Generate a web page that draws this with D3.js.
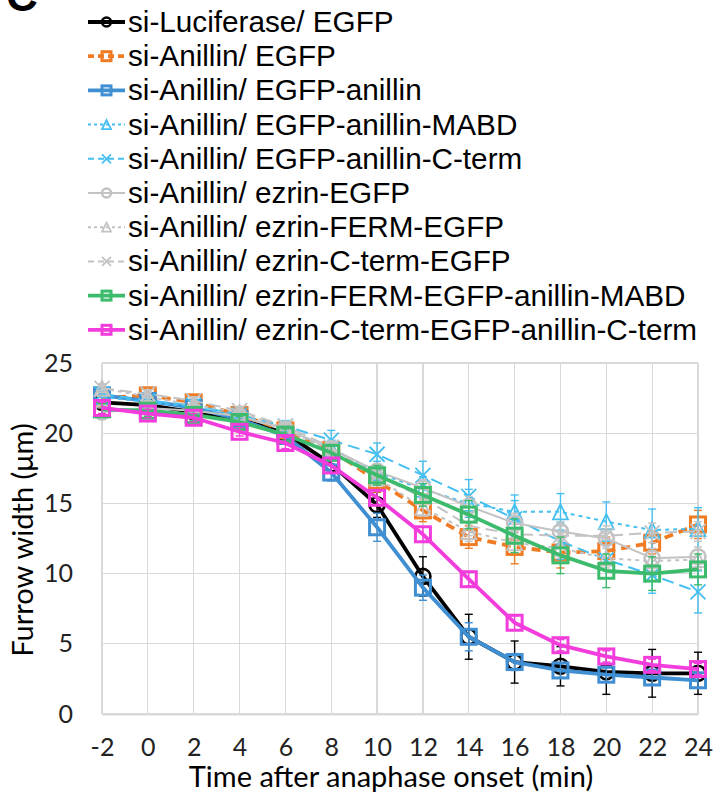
<!DOCTYPE html>
<html>
<head>
<meta charset="UTF-8" />
<title>Furrow width</title>
<style>
  body { margin: 0; background: #ffffff; }
  svg { display: block; }
  .grid line { stroke: #d9d9d9; stroke-width: 1.3px; shape-rendering: crispEdges; }
  .tick text { font-family: Lato, "Open Sans", sans-serif; font-size: 25px; fill: #222; }
  .legend text { font-family: "Liberation Sans", Arial, sans-serif; font-size: 29.7px; fill: #000; }
  .title { font-family: Lato, "Open Sans", sans-serif; font-size: 29px; fill: #000; }
</style>
</head>
<body>
<script src="https://cdnjs.cloudflare.com/ajax/libs/d3/7.8.5/d3.min.js"></script>
<script>
'use strict';
// time points (min) and tick labels
const times = [-2, 0, 2, 4, 6, 8, 10, 12, 14, 16, 18, 20, 22, 24];
const yTicks = [0, 5, 10, 15, 20, 25];

const seriesNames = [
  'si-Luciferase/ EGFP',
  'si-Anillin/ EGFP',
  'si-Anillin/ EGFP-anillin',
  'si-Anillin/ EGFP-anillin-MABD',
  'si-Anillin/ EGFP-anillin-C-term',
  'si-Anillin/ ezrin-EGFP',
  'si-Anillin/ ezrin-FERM-EGFP',
  'si-Anillin/ ezrin-C-term-EGFP',
  'si-Anillin/ ezrin-FERM-EGFP-anillin-MABD',
  'si-Anillin/ ezrin-C-term-EGFP-anillin-C-term'
];

// furrow width means (um)
const lucEGFP      = [22.2, 22.0, 21.5, 21.0, 20.0, 17.8, 14.9, 9.8, 5.5, 3.7, 3.4, 3.0, 2.9, 2.9];
const anlEGFP      = [22.5, 22.7, 22.2, 21.3, 20.2, 18.8, 16.6, 14.5, 12.6, 11.9, 11.5, 11.6, 12.2, 13.5];
const anlAnillin   = [22.7, 22.3, 21.8, 21.0, 19.8, 17.2, 13.3, 9.0, 5.5, 3.7, 3.1, 2.8, 2.6, 2.4];
const anlMABD      = [22.6, 22.2, 21.9, 21.2, 20.3, 18.9, 17.2, 16.0, 15.0, 14.4, 14.4, 13.7, 13.1, 13.2];
const anlCterm     = [22.8, 22.3, 22.0, 21.3, 20.5, 19.5, 18.5, 17.0, 15.5, 13.9, 12.3, 11.0, 9.9, 8.7];
const ezrEGFP      = [21.5, 21.8, 21.6, 21.2, 20.3, 18.9, 17.3, 16.1, 14.8, 13.6, 13.0, 12.5, 11.1, 11.2];
const ezrFERM      = [23.2, 22.6, 22.0, 21.5, 20.3, 18.7, 16.8, 14.7, 13.0, 12.2, 11.8, 11.1, 10.9, 11.0];
const ezrCterm     = [23.2, 22.8, 22.3, 21.6, 20.5, 19.0, 17.0, 15.4, 13.4, 12.8, 12.7, 12.7, 12.9, 13.0];
const fermMABD     = [21.7, 21.6, 21.3, 20.8, 19.9, 18.6, 17.0, 15.6, 14.2, 12.7, 11.3, 10.2, 10.0, 10.3];
const ctermCterm   = [21.8, 21.4, 21.1, 20.1, 19.3, 17.7, 15.4, 12.8, 9.6, 6.5, 4.9, 4.1, 3.5, 3.2];

// error bars (+/- um)
const lucErr       = [0.4, 0.3, 0.3, 0.3, 0.4, 0.5, 0.9, 1.4, 1.6, 1.5, 1.4, 1.6, 1.7, 1.5];
const anlErr       = [0.4, 0.4, 0.4, 0.4, 0.4, 0.5, 0.8, 0.8, 0.8, 1.2, 1.1, 1.0, 0.8, 1.0];
const anillinErr   = [0.4, 0.3, 0.3, 0.3, 0.4, 0.6, 1.0, 0.9, 1.0, 0.6, 0.5, 0.5, 0.5, 0.5];
const mabdErr      = [0.4, 0.4, 0.4, 0.4, 0.4, 0.6, 0.8, 0.9, 1.0, 1.2, 1.3, 1.4, 1.5, 1.5];
const ctErr        = [0.4, 0.4, 0.4, 0.4, 0.4, 0.7, 0.8, 1.0, 1.2, 1.3, 1.3, 1.3, 1.3, 1.5];
const ezrErr       = [0.3, 0.3, 0.3, 0.3, 0.3, 0.4, 0.5, 0.6, 0.7, 0.7, 0.7, 0.7, 0.7, 0.7];
const fermErr      = [0.3, 0.3, 0.3, 0.3, 0.3, 0.4, 0.5, 0.6, 0.7, 0.7, 0.7, 0.7, 0.7, 0.7];
const ezCtErr      = [0.3, 0.3, 0.3, 0.3, 0.3, 0.4, 0.5, 0.6, 0.7, 0.7, 0.7, 0.7, 0.7, 0.7];
const fermMabdErr  = [0.4, 0.4, 0.4, 0.4, 0.4, 0.5, 0.7, 0.8, 1.0, 1.2, 1.3, 1.2, 1.2, 1.1];
const ctCtErr      = [0.4, 0.3, 0.3, 0.3, 0.4, 0.5, 0.5, 0.5, 0.5, 0.5, 0.4, 0.4, 0.4, 0.4];

const values = [lucEGFP, anlEGFP, anlAnillin, anlMABD, anlCterm, ezrEGFP, ezrFERM, ezrCterm, fermMABD, ctermCterm];
const errors = [lucErr, anlErr, anillinErr, mabdErr, ctErr, ezrErr, fermErr, ezCtErr, fermMabdErr, ctCtErr];

// look of each series
const styles = [
  { color: '#000000', width: 3.8, dash: null,  marker: 'circle' },
  { color: '#f07b22', width: 3.8, dash: '9,6', marker: 'square' },
  { color: '#3f8fd2', width: 3.8, dash: null,  marker: 'square' },
  { color: '#45bff0', width: 2,   dash: '4,4', marker: 'triangle' },
  { color: '#45bff0', width: 2,   dash: '12,6', marker: 'cross' },
  { color: '#c3c3c3', width: 2,   dash: null,  marker: 'circle' },
  { color: '#c3c3c3', width: 2,   dash: '4,4', marker: 'triangle' },
  { color: '#c3c3c3', width: 2,   dash: '12,6', marker: 'cross' },
  { color: '#3dbb6c', width: 3.8, dash: null,  marker: 'square' },
  { color: '#f23ddc', width: 3.8, dash: null,  marker: 'square' }
];

const series = seriesNames.map(function(name, i) {
  return {
    name: name,
    style: styles[i],
    points: times.map(function(t, j) { return { t: t, v: values[i][j], e: errors[i][j] }; })
  };
});

const W = 715, H = 796;
const margin = { top: 363, right: 17, bottom: 82, left: 102 };
const width = W - margin.left - margin.right;
const height = H - margin.top - margin.bottom;

const x = d3.scaleLinear().domain([-2, 24]).range([0, width]);
const y = d3.scaleLinear().domain([0, 25]).range([height, 0]);

const svg = d3.select('body').append('svg')
  .attr('width', W)
  .attr('height', H);

// panel letter, cut off at the top as in the source figure
svg.append('text')
  .attr('x', 6).attr('y', 11)
  .style('font-family', 'Liberation Sans, Arial, sans-serif')
  .style('font-size', '44px')
  .style('font-weight', 'bold')
  .text('C');

const g = svg.append('g')
  .attr('transform', 'translate(' + margin.left + ',' + margin.top + ')');

// grid
g.append('g').attr('class', 'grid')
  .selectAll('line.h').data(yTicks).enter().append('line')
  .attr('x1', 0).attr('x2', width)
  .attr('y1', function(d) { return y(d); })
  .attr('y2', function(d) { return y(d); });
g.append('g').attr('class', 'grid')
  .selectAll('line.v').data(times).enter().append('line')
  .attr('y1', 0).attr('y2', height)
  .attr('x1', function(d) { return x(d); })
  .attr('x2', function(d) { return x(d); });

// axes (plain hyphen for negative ticks)
const xAxis = g.append('g')
  .attr('transform', 'translate(0,' + height + ')')
  .call(d3.axisBottom(x).tickValues(times).tickSize(0).tickPadding(24)
    .tickFormat(function(d) { return String(d); }));
xAxis.select('.domain').attr('stroke', '#d9d9d9').attr('stroke-width', 2);

const yAxis = g.append('g')
  .call(d3.axisLeft(y).tickValues(yTicks).tickSize(0).tickPadding(29));
yAxis.select('.domain').remove();

// axis titles
svg.append('text').attr('class', 'title')
  .attr('x', 391)
  .attr('y', 787)
  .attr('text-anchor', 'middle')
  .text('Time after anaphase onset (min)');

svg.append('text').attr('class', 'title')
  .attr('transform', 'translate(33,540) rotate(-90)')
  .attr('text-anchor', 'middle')
  .text('Furrow width (\u03bcm)');

// marker drawing
function drawMarker(sel, type, color, size) {
  const h = size / 2;
  if (type === 'circle') {
    sel.append('circle').attr('r', h).attr('fill', 'none').attr('stroke', color).attr('stroke-width', 2.6);
  } else if (type === 'square') {
    sel.append('rect').attr('x', -h).attr('y', -h).attr('width', size).attr('height', size)
      .attr('fill', 'none').attr('stroke', color).attr('stroke-width', 3);
  } else if (type === 'triangle') {
    sel.append('path').attr('d', 'M0,' + (-h) + 'L' + h + ',' + h + 'L' + (-h) + ',' + h + 'Z')
      .attr('fill', 'none').attr('stroke', color).attr('stroke-width', 1.8);
  } else if (type === 'cross') {
    sel.append('path').attr('d', 'M' + (-h) + ',' + (-h) + 'L' + h + ',' + h + 'M' + h + ',' + (-h) + 'L' + (-h) + ',' + h)
      .attr('fill', 'none').attr('stroke', color).attr('stroke-width', 1.8);
  }
}

const line = d3.line()
  .x(function(d) { return x(d.t); })
  .y(function(d) { return y(d.v); });

// series, later ones on top
series.forEach(function(s) {
  const sg = g.append('g');
  const st = s.style;

  // error bars
  const eb = sg.selectAll('g.err').data(s.points).enter().append('g')
    .attr('stroke', st.color).attr('stroke-width', 1.4);
  eb.append('line')
    .attr('x1', function(d) { return x(d.t); }).attr('x2', function(d) { return x(d.t); })
    .attr('y1', function(d) { return y(d.v + d.e); }).attr('y2', function(d) { return y(d.v - d.e); });
  eb.append('line')
    .attr('x1', function(d) { return x(d.t) - 4; }).attr('x2', function(d) { return x(d.t) + 4; })
    .attr('y1', function(d) { return y(d.v + d.e); }).attr('y2', function(d) { return y(d.v + d.e); });
  eb.append('line')
    .attr('x1', function(d) { return x(d.t) - 4; }).attr('x2', function(d) { return x(d.t) + 4; })
    .attr('y1', function(d) { return y(d.v - d.e); }).attr('y2', function(d) { return y(d.v - d.e); });

  sg.append('path')
    .datum(s.points)
    .attr('fill', 'none')
    .attr('stroke', st.color)
    .attr('stroke-width', st.width)
    .attr('stroke-dasharray', st.dash)
    .attr('stroke-linejoin', 'round')
    .attr('d', line);

  sg.selectAll('g.mk').data(s.points).enter().append('g')
    .attr('transform', function(d) { return 'translate(' + x(d.t) + ',' + y(d.v) + ')'; })
    .each(function() { drawMarker(d3.select(this), st.marker, st.color, 15); });
});

// legend
const legend = svg.append('g').attr('class', 'legend');
series.forEach(function(s, i) {
  const st = s.style;
  const row = legend.append('g').attr('transform', 'translate(88,' + (22 + i * 34.2) + ')');
  row.append('line').attr('x1', 0).attr('x2', 37).attr('y1', 0).attr('y2', 0)
    .attr('stroke', st.color).attr('stroke-width', st.width)
    .attr('stroke-dasharray', st.dash ? (st.dash === '4,4' ? '3,3' : '6,4') : null);
  row.append('g').attr('transform', 'translate(18.5,0)')
    .each(function() { drawMarker(d3.select(this), st.marker, st.color, 9); });
  row.append('text').attr('x', 40).attr('y', 10).text(s.name);
});
</script>
</body>
</html>
